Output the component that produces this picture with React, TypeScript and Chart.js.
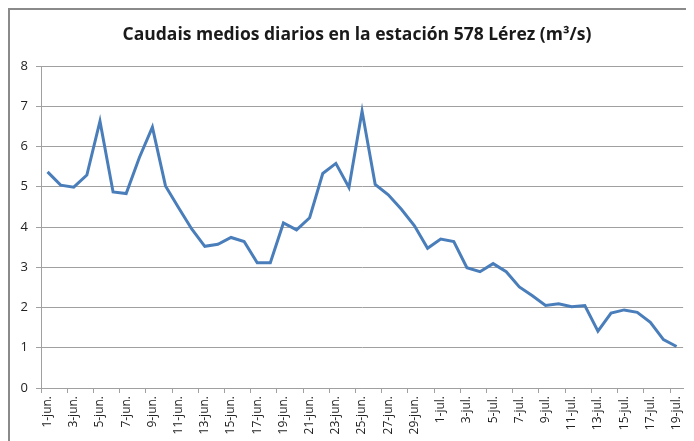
import React, { useEffect, useRef } from "react";
import { Chart, registerables } from "chart.js";

Chart.register(...registerables);

const TITLE = "Caudais medios diarios en la estación 578 Lérez (m³/s)";

const CATEGORIES = [
  "1-jun.", "2-jun.", "3-jun.", "4-jun.", "5-jun.", "6-jun.", "7-jun.", "8-jun.", "9-jun.", "10-jun.",
  "11-jun.", "12-jun.", "13-jun.", "14-jun.", "15-jun.", "16-jun.", "17-jun.", "18-jun.", "19-jun.", "20-jun.",
  "21-jun.", "22-jun.", "23-jun.", "24-jun.", "25-jun.", "26-jun.", "27-jun.", "28-jun.", "29-jun.", "30-jun.",
  "1-jul.", "2-jul.", "3-jul.", "4-jul.", "5-jul.", "6-jul.", "7-jul.", "8-jul.", "9-jul.", "10-jul.",
  "11-jul.", "12-jul.", "13-jul.", "14-jul.", "15-jul.", "16-jul.", "17-jul.", "18-jul.", "19-jul.",
];

const FLOW_JUNE = [
  5.37, 5.04, 4.99, 5.29, 6.63, 4.87, 4.83, 5.72, 6.48, 5.02,
  4.48, 3.95, 3.52, 3.57, 3.74, 3.64, 3.11, 3.11, 4.10, 3.93,
  4.23, 5.33, 5.58, 4.98, 6.88, 5.06, 4.80, 4.44, 4.03, 3.47,
];

const FLOW_JULY = [
  3.70, 3.64, 2.99, 2.89, 3.09, 2.89, 2.51, 2.29, 2.05, 2.09,
  2.02, 2.05, 1.41, 1.86, 1.94, 1.88, 1.63, 1.20, 1.03,
];

const Y_MIN = 0;
const Y_MAX = 8;
const Y_STEP = 1;

const FONT = '"Open Sans", "DejaVu Sans", sans-serif';

const titlePlugin = {
  id: "customTitle",
  afterDraw(chart: any) {
    const ctx = chart.ctx;
    ctx.save();
    ctx.font = `bold 17.5px ${FONT}`;
    ctx.fillStyle = "#1a1a1a";
    ctx.textAlign = "center";
    ctx.textBaseline = "middle";
    ctx.fillText(TITLE, 347, 25);
    ctx.restore();
  },
};

export default function App() {
  const ref = useRef<HTMLCanvasElement | null>(null);

  useEffect(() => {
    document.documentElement.style.overflow = "hidden";
    document.body.style.overflow = "hidden";
    const canvas = ref.current;
    if (!canvas) return;
    const values = [...FLOW_JUNE, ...FLOW_JULY];
    const chart = new Chart(canvas, {
      type: "line",
      data: {
        labels: CATEGORIES,
        datasets: [
          {
            data: values,
            borderColor: "#4a7ebb",
            backgroundColor: "#4a7ebb",
            borderWidth: 3,
            pointRadius: 0,
            tension: 0,
            fill: false,
          },
        ],
      },
      options: {
        responsive: false,
        animation: false,
        devicePixelRatio: 1,
        layout: { padding: { top: 56, right: 3, left: 0, bottom: 0 } },
        plugins: {
          legend: { display: false },
          title: { display: false },
          tooltip: { enabled: false },
        },
        scales: {
          x: {
            type: "category",
            offset: true,
            grid: {
              offset: true,
              drawOnChartArea: false,
              drawTicks: true,
              tickLength: 5,
              tickColor: (c: any) => (typeof c.index === "number" && c.index % 2 === 0 ? "#a0a0a0" : "rgba(0,0,0,0)"),
              color: "#a0a0a0",
            },
            border: { display: true, color: "#a0a0a0", width: 1 },
            ticks: {
              autoSkip: false,
              minRotation: 90,
              maxRotation: 90,
              padding: 3,
              color: "#222",
              font: { family: FONT, size: 12 },
              callback: (_v: any, i: number) => (i % 2 === 0 ? CATEGORIES[i] : ""),
            },
            afterFit: (s: any) => {
              s.height = 53;
            },
          },
          y: {
            min: Y_MIN,
            max: Y_MAX,
            grid: {
              color: "#a0a0a0",
              lineWidth: 1,
              drawTicks: true,
              tickLength: 5,
            },
            border: { display: true, color: "#a0a0a0", width: 1 },
            ticks: {
              stepSize: Y_STEP,
              padding: 8,
              color: "#222",
              font: { family: FONT, size: 13 },
            },
            afterFit: (s: any) => {
              s.width = 31;
            },
          },
        },
      },
      plugins: [titlePlugin],
    });
    return () => chart.destroy();
  }, []);

  return (
    <div
      style={{
        width: 686,
        height: 433,
        boxSizing: "border-box",
        borderTop: "2px solid #8a8a8a",
        borderLeft: "2px solid #8a8a8a",
        background: "#fff",
      }}
    >
      <canvas ref={ref} width={684} height={431} style={{ display: "block", width: 684, height: 431 }} />
    </div>
  );
}
